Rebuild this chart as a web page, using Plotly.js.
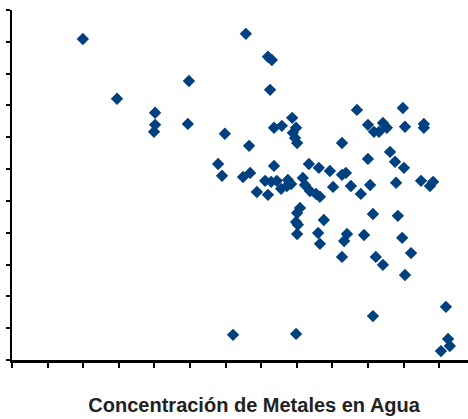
<!DOCTYPE html>
<html>
<head>
<meta charset="utf-8">
<script src="https://cdn.plot.ly/plotly-3.0.1.min.js"></script>
<style>html,body{margin:0;padding:0;background:#fff;}#chart{width:468px;height:419px;}</style>
</head>
<body>
<div id="chart"></div>
<script>
// Values (axis units: one tick = 1)
const xValues = [1.99,6.57,4.97,2.95,4.02,4.02,3.99,4.94,5.98,6.66,5.79,5.90,6.49,6.69,7.19,7.30,7.25,9.69,10.98,7.36,7.58,7.87,7.98,7.89,7.95,8.01,7.36,9.27,10.0,10.17,10.31,10.42,10.53,11.04,11.57,11.57,10.62,7.11,7.28,7.44,7.75,7.84,8.17,8.23,8.34,8.62,8.93,9.27,9.38,10.0,10.76,11.01,11.49,11.74,11.83,6.88,7.19,7.56,7.72,8.37,8.54,8.65,9.02,9.52,9.80,10.06,10.79,10.14,10.84,8.01,8.09,7.98,8.03,8.01,8.76,8.60,8.65,9.41,9.33,9.27,9.89,10.96,11.21,10.22,10.42,11.04,6.21,7.98,10.14,12.19,12.25,12.30,12.05,12.95];
const yValues = [10.09,10.25,8.77,8.21,7.77,7.39,7.17,7.42,7.11,6.73,6.16,5.79,5.75,5.88,9.53,9.43,8.49,7.86,7.92,7.30,7.36,7.61,7.30,7.14,6.98,6.82,6.10,6.82,7.39,7.17,7.17,7.45,7.30,7.33,7.42,7.30,6.54,5.63,5.60,5.63,5.66,5.53,5.72,5.50,6.16,6.04,5.94,5.82,5.88,6.32,6.23,6.04,5.63,5.47,5.60,5.28,5.19,5.38,5.47,5.31,5.22,5.13,5.44,5.47,5.22,5.50,5.57,4.59,4.53,4.62,4.78,4.34,4.25,3.96,4.40,3.99,3.65,3.96,3.74,3.24,3.93,3.84,3.36,3.24,2.99,2.67,0.79,0.82,1.38,1.67,0.66,0.44,0.28,2.01];
const titleText = 'Concentración de Metales en Agua';

const trace = {
  type: 'scatter',
  mode: 'markers',
  x: xValues,
  y: yValues,
  cliponaxis: false,
  marker: {symbol: 'diamond', size: 9.5, color: '#00407F', line: {width: 0}},
  hoverinfo: 'x+y'
};

const layout = {
  width: 468,
  height: 419,
  margin: {l: 12, r: 0, t: 10, b: 59, pad: 0},
  paper_bgcolor: '#ffffff',
  plot_bgcolor: '#ffffff',
  showlegend: false,
  font: {family: 'Liberation Sans, Arial, sans-serif', color: '#222222'},
  title: {
    text: '<b>' + titleText + '</b>',
    font: {family: 'Liberation Sans, Arial, sans-serif', size: 20, color: '#222222'},
    xref: 'paper', x: 0.531, xanchor: 'center',
    yref: 'container', y: 0.017, yanchor: 'bottom'
  },
  xaxis: {
    range: [0, 12.81],
    dtick: 1, tick0: 0,
    showticklabels: false,
    ticks: 'outside', ticklen: 5, tickwidth: 2, tickcolor: '#000',
    showline: true, linecolor: '#000', linewidth: 2.5,
    showgrid: false, zeroline: false, fixedrange: true
  },
  yaxis: {
    range: [0, 11],
    dtick: 1, tick0: 0,
    showticklabels: false,
    ticks: 'outside', ticklen: 4, tickwidth: 2, tickcolor: '#000',
    showline: true, linecolor: '#000', linewidth: 2.5,
    showgrid: false, zeroline: false, fixedrange: true
  }
};

Plotly.newPlot('chart', [trace], layout, {displayModeBar: false, staticPlot: true});
</script>
</body>
</html>
